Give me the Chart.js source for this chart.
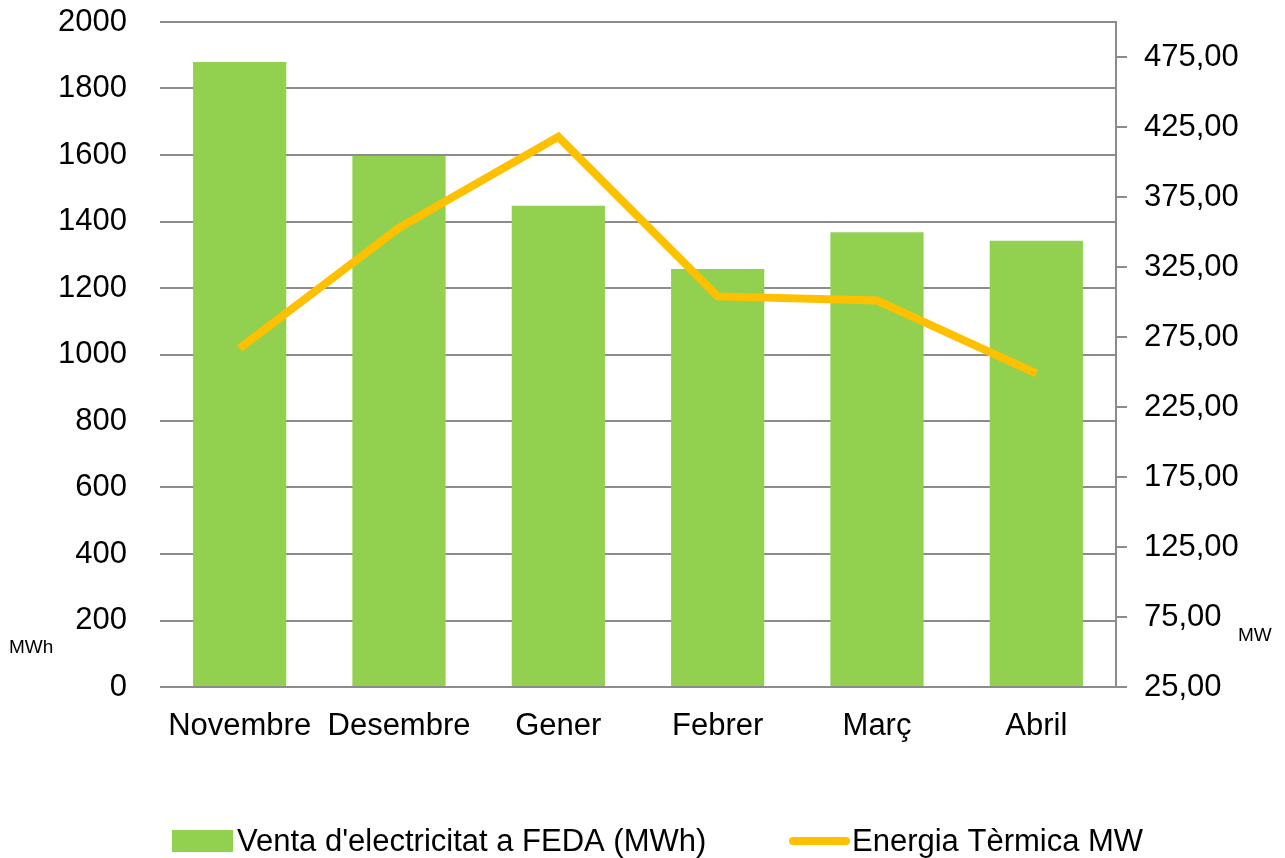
<!DOCTYPE html>
<html>
<head>
<meta charset="utf-8">
<script src="https://cdn.jsdelivr.net/npm/chart.js@4.4.1/dist/chart.umd.min.js"></script>
<style>
  html, body { margin: 0; padding: 0; background: #fff; }
  #wrap { width: 1285px; height: 858px; position: relative; }
</style>
</head>
<body>
<div id="wrap"><canvas id="c" width="1285" height="858"></canvas></div>
<script>
const categories = ['Novembre', 'Desembre', 'Gener', 'Febrer', 'Març', 'Abril'];
const vendaFEDA = [1880, 1597, 1447, 1257, 1368, 1342];
const energiaTermica = [267, 353, 418, 304, 301, 249];
const leftTicks = [0, 200, 400, 600, 800, 1000, 1200, 1400, 1600, 1800, 2000];
const rightTicks = [25, 75, 125, 175, 225, 275, 325, 375, 425, 475];
const seriesNames = ["Venta d'electricitat a FEDA (MWh)", 'Energia Tèrmica MW'];
const leftUnit = 'MWh';
const rightUnit = 'MW';

const GREEN = '#92D050';
const ORANGE = '#FFC000';
const GRID = '#8c8c8c';
const FONT = '"Liberation Sans", Arial, sans-serif';
const FS = 31;

const extras = {
  id: 'extras',
  afterDraw(chart) {
    const ctx = chart.ctx;
    ctx.save();
    ctx.fillStyle = '#000';
    ctx.textBaseline = 'middle';
    ctx.textAlign = 'left';
    ctx.font = '19px ' + FONT;
    ctx.fillText(leftUnit, 9, 648);
    ctx.fillText(rightUnit, 1238, 636);
    // legend
    ctx.font = FS + 'px ' + FONT;
    ctx.fillStyle = GREEN;
    ctx.fillRect(172, 830, 61, 22);
    ctx.fillStyle = '#000';
    ctx.fillText(seriesNames[0], 237, 842);
    ctx.strokeStyle = ORANGE;
    ctx.lineWidth = 8;
    ctx.lineCap = 'round';
    ctx.beginPath();
    ctx.moveTo(793, 841);
    ctx.lineTo(846, 841);
    ctx.stroke();
    ctx.fillText(seriesNames[1], 852, 842);
    ctx.restore();
  }
};

new Chart(document.getElementById('c'), {
  data: {
    labels: categories,
    datasets: [
      {
        type: 'line',
        label: seriesNames[1],
        data: energiaTermica,
        yAxisID: 'y1',
        borderColor: ORANGE,
        backgroundColor: ORANGE,
        borderWidth: 8,
        pointRadius: 0,
        tension: 0,
        borderJoinStyle: 'miter',
        order: 0
      },
      {
        type: 'bar',
        label: seriesNames[0],
        data: vendaFEDA,
        yAxisID: 'y',
        backgroundColor: GREEN,
        borderWidth: 0,
        barPercentage: 1,
        categoryPercentage: 0.585,
        order: 1
      }
    ]
  },
  options: {
    responsive: false,
    animation: false,
    devicePixelRatio: 1,
    layout: { padding: { top: 22, left: 0, right: 0, bottom: 0 } },
    plugins: { legend: { display: false }, tooltip: { enabled: false }, title: { display: false } },
    scales: {
      x: {
        grid: { display: false },
        border: { display: false },
        ticks: { color: '#000', font: { family: FONT, size: FS }, padding: 13, maxRotation: 0, autoSkip: false },
        afterFit(s) { s.height = 171; s.paddingLeft = 0; s.paddingRight = 0; }
      },
      y: {
        position: 'left',
        min: 0, max: 2000,
        afterBuildTicks(s) { s.ticks = leftTicks.map(v => ({ value: v })); },
        grid: { color: GRID, lineWidth: 2, drawTicks: false },
        border: { display: false },
        ticks: { color: '#000', font: { family: FONT, size: FS }, padding: 33, callback: v => String(v) },
        afterFit(s) { s.width = 160; s.paddingTop = 0; s.paddingBottom = 0; }
      },
      y1: {
        position: 'right',
        min: 25, max: 500,
        afterBuildTicks(s) { s.ticks = rightTicks.map(v => ({ value: v })); },
        grid: { drawOnChartArea: false, drawTicks: true, tickLength: 11, color: GRID, lineWidth: 2 },
        border: { display: true, color: GRID, width: 2 },
        ticks: {
          color: '#000', font: { family: FONT, size: FS }, padding: 17,
          callback: v => Number(v).toFixed(2).replace('.', ',')
        },
        afterFit(s) { s.width = 169; s.paddingTop = 0; s.paddingBottom = 0; }
      }
    }
  },
  plugins: [extras]
});
</script>
</body>
</html>
